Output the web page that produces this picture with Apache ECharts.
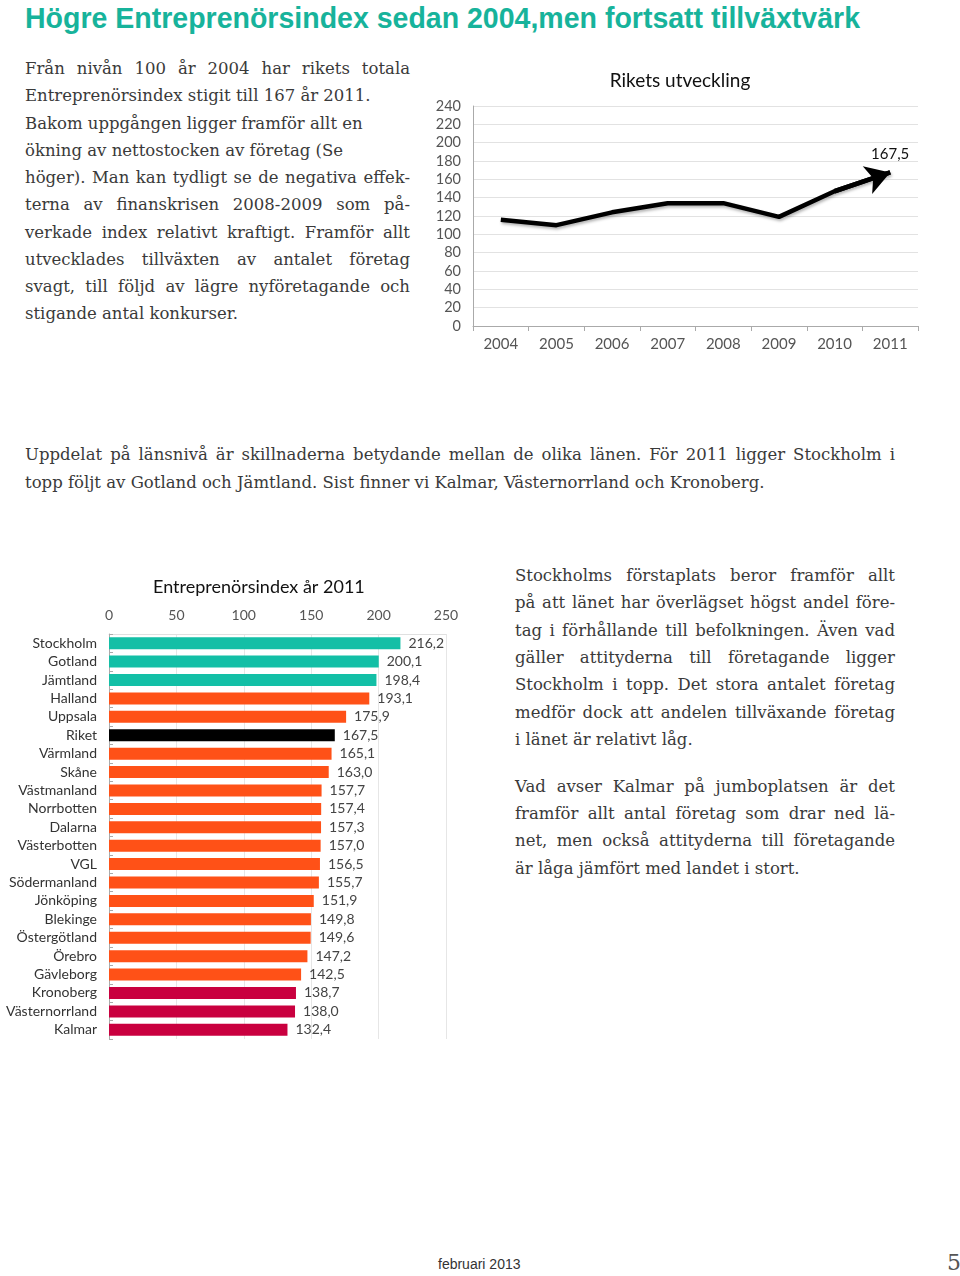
<!DOCTYPE html>
<html>
<head>
<meta charset="utf-8">
<script src="https://cdn.jsdelivr.net/npm/echarts@6/dist/echarts.min.js"></script>
<style>
  html, body { margin:0; padding:0; background:#fff; }
  body { width:960px; height:1276px; position:relative; overflow:hidden; }
  .h1 { position:absolute; left:25px; top:2px; font-family:"Liberation Sans", Arial, sans-serif; font-weight:bold;
        font-size:29px; color:#17B39B; white-space:nowrap; transform-origin:left top; display:inline-block; }
  .ln { position:absolute; font-family:"DejaVu Serif", serif; font-size:16.5px; color:#3a3a3a; white-space:nowrap; line-height:20px; }
  .j { text-align:justify; text-align-last:justify; }
  .foot { position:absolute; left:438px; top:1256px; font-family:"Liberation Sans", Arial, sans-serif; font-size:14px; color:#333; }
  .pg { position:absolute; left:947px; top:1250px; font-family:"DejaVu Serif", serif; font-size:22px; color:#555; }
  #line { position:absolute; left:420px; top:55px; width:520px; height:310px; }
  #bar { position:absolute; left:0px; top:565px; width:480px; height:490px; }
</style>
</head>
<body>
<div class="h1" id="h1">Högre Entreprenörsindex sedan 2004,men fortsatt tillväxtvärk</div>
<div id="texts"></div>
<div id="line"></div>
<div id="bar"></div>
<div class="foot">februari 2013</div>
<div class="pg">5</div>
<script>
// ---------- data ----------
const years = ['2004','2005','2006','2007','2008','2009','2010','2011'];
const riketValues = [116, 110, 124, 134, 134, 119, 147, 167.5];
const yTicks = [0, 20, 40, 60, 80, 100, 120, 140, 160, 180, 200, 220, 240];

const regions = ['Stockholm','Gotland','Jämtland','Halland','Uppsala','Riket','Värmland','Skåne','Västmanland','Norrbotten','Dalarna','Västerbotten','VGL','Södermanland','Jönköping','Blekinge','Östergötland','Örebro','Gävleborg','Kronoberg','Västernorrland','Kalmar'];
const regionValues = [216.2, 200.1, 198.4, 193.1, 175.9, 167.5, 165.1, 163.0, 157.7, 157.4, 157.3, 157.0, 156.5, 155.7, 151.9, 149.8, 149.6, 147.2, 142.5, 138.7, 138.0, 132.4];
const xTicks = [0, 50, 100, 150, 200, 250];

// ---------- text ----------
const para1 = [
  ['Från nivån 100 år 2004 har rikets totala', true],
  ['Entreprenörsindex stigit till 167 år 2011.', false],
  ['Bakom uppgången ligger framför allt en', false],
  ['ökning av nettostocken av företag (Se', false],
  ['höger). Man kan tydligt se de negativa effek-', true],
  ['terna av finanskrisen 2008-2009 som på-', true],
  ['verkade index relativt kraftigt. Framför allt', true],
  ['utvecklades tillväxten av antalet företag', true],
  ['svagt, till följd av lägre nyföretagande och', true],
  ['stigande antal konkurser.', false]
];
const para2 = [
  ['Uppdelat på länsnivå är skillnaderna betydande mellan de olika länen. För 2011 ligger Stockholm i', true],
  ['topp följt av Gotland och Jämtland. Sist finner vi Kalmar, Västernorrland och Kronoberg.', false]
];
const para3 = [
  ['Stockholms förstaplats beror framför allt', true],
  ['på att länet har överlägset högst andel före-', true],
  ['tag i förhållande till befolkningen. Även vad', true],
  ['gäller attityderna till företagande ligger', true],
  ['Stockholm i topp. Det stora antalet företag', true],
  ['medför dock att andelen tillväxande företag', true],
  ['i länet är relativt låg.', false]
];
const para4 = [
  ['Vad avser Kalmar på jumboplatsen är det', true],
  ['framför allt antal företag som drar ned lä-', true],
  ['net, men också attityderna till företagande', true],
  ['är låga jämfört med landet i stort.', false]
];
function addPara(lines, x, y0, w, step) {
  const c = document.getElementById('texts');
  lines.forEach((l, i) => {
    const d = document.createElement('div');
    d.className = 'ln' + (l[1] ? ' j' : '');
    d.style.left = x + 'px';
    d.style.top = (y0 + i * step - 10) + 'px';
    d.style.width = w + 'px';
    d.textContent = l[0];
    c.appendChild(d);
  });
}
addPara(para1, 25, 69, 385, 27.25);
addPara(para2, 25, 455, 870, 27.5);
addPara(para3, 515, 576, 380, 27.3);
addPara(para4, 515, 787, 380, 27.2);

// fit heading width
const h1 = document.getElementById('h1');
const hw = h1.getBoundingClientRect().width;
h1.style.transform = 'scaleX(' + (835 / hw) + ')';

const fmt = v => v.toFixed(1).replace('.', ',');
const chartFont = 'Lato, "Open Sans", sans-serif';

// ---------- line chart ----------
const lc = echarts.init(document.getElementById('line'));
const last = riketValues.length - 1;
lc.setOption({
  animation: false,
  title: { text: 'Rikets utveckling', left: 'center', top: 11,
           textStyle: { fontFamily: chartFont, fontSize: 19, fontWeight: 'normal', color: '#111' } },
  grid: { left: 53, right: 22, top: 51, bottom: 39 },
  xAxis: {
    type: 'category', data: years, boundaryGap: true,
    axisLine: { lineStyle: { color: '#aaa' } },
    axisTick: { show: true, length: 5, lineStyle: { color: '#aaa' } },
    axisLabel: { fontFamily: chartFont, fontSize: 15, color: '#555', margin: 11 }
  },
  yAxis: {
    type: 'value', min: yTicks[0], max: yTicks[yTicks.length - 1], interval: 20,
    axisLine: { show: true, lineStyle: { color: '#aaa' } },
    axisTick: { show: false },
    axisLabel: { fontFamily: chartFont, fontSize: 14.5, color: '#555', margin: 12 },
    splitLine: { lineStyle: { color: '#e2e2e2' } }
  },
  series: [{
    type: 'line', data: riketValues, symbol: 'none', smooth: false,
    lineStyle: { color: '#000', width: 4.5, shadowColor: 'rgba(0,0,0,0.3)', shadowBlur: 3, shadowOffsetX: 1, shadowOffsetY: 2 },
    markLine: {
      silent: true, symbol: ['none', 'arrow'], symbolSize: [22, 24],
      label: { show: false },
      lineStyle: { color: '#000', width: 4.5, type: 'solid' },
      data: [[{ coord: [years[last - 1], riketValues[last - 1]] }, { coord: [years[last], riketValues[last]] }]]
    },
    markPoint: {
      silent: true, symbol: 'circle', symbolSize: 1,
      itemStyle: { color: 'rgba(0,0,0,0)' },
      label: { show: true, position: 'top', distance: 10, fontFamily: chartFont, fontSize: 15, color: '#111',
               formatter: p => fmt(p.value) },
      data: [{ coord: [years[last], riketValues[last]], value: riketValues[last] }]
    }
  }]
});

// ---------- bar chart ----------
const bc = echarts.init(document.getElementById('bar'));
const n = regions.length;
function barColor(i, name) {
  if (name === 'Riket') return '#000000';
  if (i < 3) return '#13BFA6';
  if (i >= n - 3) return '#C9003F';
  return '#FF5117';
}
bc.setOption({
  animation: false,
  title: { text: 'Entreprenörsindex år 2011', left: 148, top: 8,
           textStyle: { fontFamily: chartFont, fontSize: 18, fontWeight: 'normal', color: '#111' } },
  grid: { left: 109, right: 34, top: 69, bottom: 16 },
  xAxis: {
    type: 'value', position: 'top', min: xTicks[0], max: xTicks[xTicks.length - 1], interval: 50,
    axisLine: { show: true, lineStyle: { color: '#e0e0e0' } },
    axisTick: { show: false },
    axisLabel: { fontFamily: chartFont, fontSize: 14, color: '#555', margin: 12 },
    splitLine: { lineStyle: { color: '#e6e6e6' } }
  },
  yAxis: {
    type: 'category', data: regions, inverse: true,
    axisLine: { show: true, lineStyle: { color: '#aaa' } },
    axisTick: { show: true, inside: true, length: 4, lineStyle: { color: '#aaa' } },
    axisLabel: { fontFamily: chartFont, fontSize: 14, color: '#333', margin: 12 }
  },
  series: [{
    type: 'bar', barWidth: 12,
    data: regionValues.map((v, i) => ({ value: v, itemStyle: { color: barColor(i, regions[i]) } })),
    label: { show: true, position: 'right', distance: 8, fontFamily: chartFont, fontSize: 14, color: '#444',
             formatter: p => fmt(p.value) }
  }]
});
</script>
</body>
</html>
